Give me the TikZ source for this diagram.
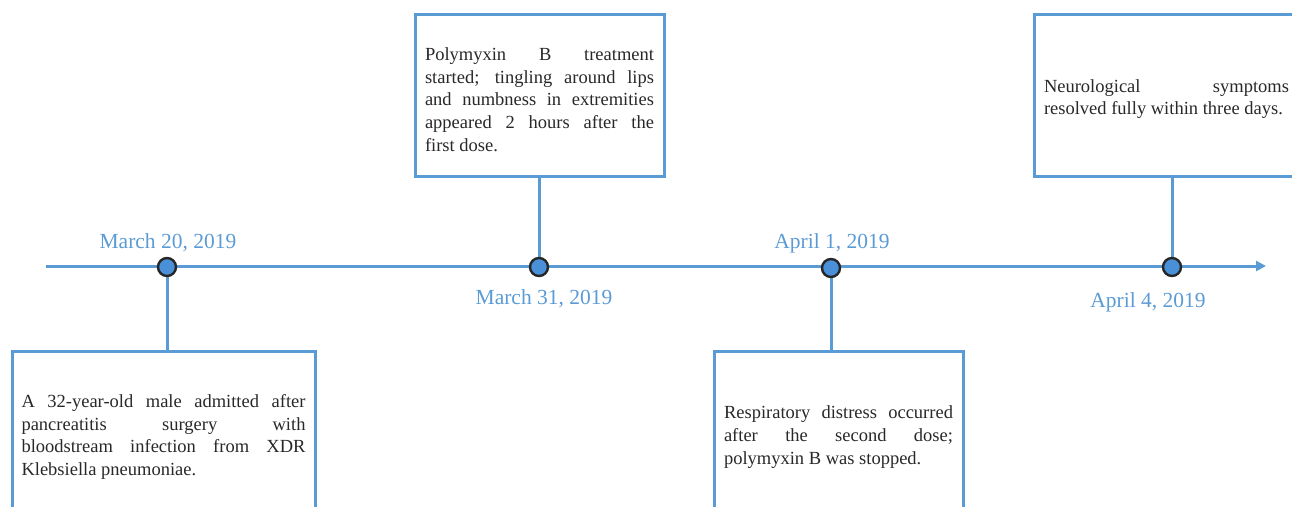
\documentclass[tikz,border=0pt]{standalone}
\usepackage{fontspec}
\setmainfont{Liberation Serif}
\usetikzlibrary{arrows.meta}
\definecolor{tlblue}{RGB}{91,155,213}
\definecolor{dotblue}{RGB}{74,144,217}
\definecolor{txt}{RGB}{40,40,40}
\newcommand{\topgap}[1]{\rule{0pt}{#1}}
\tikzset{
  evbox/.style={draw=tlblue, line width=3pt, rectangle, minimum height=162pt, inner sep=0pt, align=justify, text=txt, font=\rmfamily\fontsize{18.5}{22.8}\selectfont},
  datelbl/.style={text=tlblue, font=\rmfamily\fontsize{21.5}{24}\selectfont, inner sep=0pt},
  tldot/.style={circle, draw=black!85, fill=dotblue, line width=2.4pt, minimum size=18pt, inner sep=0pt},
  tlline/.style={draw=tlblue, line width=3pt},
}
\begin{document}
\begin{tikzpicture}[x=1pt,y=-1pt]
\useasboundingbox (0,0) rectangle (1292,506);
% boxes
\node[evbox, minimum width=303pt, text width=284pt] (b1) at (163.5,432) {\topgap{23pt}A 32-year-old male admitted after\linebreak pancreatitis surgery with\linebreak bloodstream infection from XDR\linebreak Klebsiella pneumoniae.};
\node[evbox, minimum width=249pt, text width=229pt] (b2) at (539.5,95) {\topgap{22pt}Polymyxin B treatment\linebreak started; tingling around lips\linebreak and numbness in extremities\linebreak appeared 2 hours after the\linebreak first dose.};
\node[evbox, minimum width=249pt, text width=229pt] (b3) at (838.5,432) {\topgap{23pt}Respiratory distress occurred\linebreak after the second dose;\linebreak polymyxin B was stopped.};
\node[evbox, minimum width=265pt, text width=245pt] (b4) at (1166.5,95) {\topgap{21pt}Neurological symptoms\linebreak resolved fully within three days.};
% timeline
\coordinate (ts) at (46,266);
\coordinate (te) at (1266,266);
\coordinate (p1) at (167,267);
\coordinate (p2) at (539,267);
\coordinate (p3) at (831,268);
\coordinate (p4) at (1172,267);
\draw[tlline, -{Triangle[length=10pt,width=10pt]}] (ts) -- (te);
\draw[tlline] (p1) -- (p1 |- b1.north);
\draw[tlline] (p2) -- (p2 |- b2.south);
\draw[tlline] (p3) -- (p3 |- b3.north);
\draw[tlline] (p4) -- (p4 |- b4.south);
\node[tldot] (d1) at (p1) {};
\node[tldot] (d2) at (p2) {};
\node[tldot] (d3) at (p3) {};
\node[tldot] (d4) at (p4) {};
% dates
\node[datelbl] (l1) at (168,243) {March 20, 2019};
\node[datelbl] (l2) at (544,299) {March 31, 2019};
\node[datelbl] (l3) at (832,243) {April 1, 2019};
\node[datelbl] (l4) at (1148,302) {April 4, 2019};
\end{tikzpicture}
\end{document}
